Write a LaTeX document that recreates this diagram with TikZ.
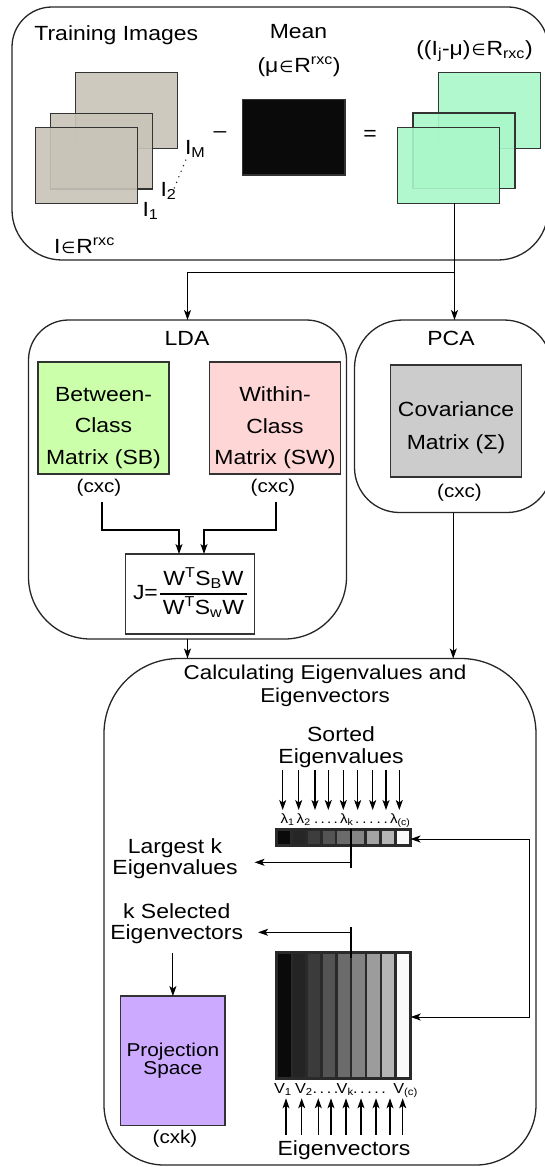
\documentclass[tikz,border=0pt]{standalone}
\usepackage{fontspec}
\setmainfont{Liberation Sans}[FakeStretch=1.12]
\newfontfamily\symfont{DejaVu Sans}
\usetikzlibrary{arrows.meta,calc}

\definecolor{imgfill}{HTML}{C8C4B7}
\definecolor{difffill}{HTML}{AAF8CA}
\definecolor{sbfill}{HTML}{CCFFAA}
\definecolor{swfill}{HTML}{FFD6D6}
\definecolor{covfill}{HTML}{CCCCCC}
\definecolor{projfill}{HTML}{CCAAFF}
\definecolor{edge}{HTML}{333333}
\definecolor{barframe}{HTML}{2A2A2A}

% element-of sign taken from DejaVu Sans
\newcommand\elem{\kern1pt{\symfont\fontsize{16}{16}\selectfont ∈}\kern1pt}
% rounded frame around a node: name, top radius, bottom radius
\newcommand\roundframe[3]{\draw[frame] (#1.west) [rounded corners=#2] |- (#1.north) -| (#1.east) [rounded corners=#3] |- (#1.south) -| (#1.west);}

\begin{document}
\begin{tikzpicture}[x=1pt,y=-1pt,
  every node/.style={inner sep=0pt, outer sep=0pt, text=black},
  txt/.style={font=\fontsize{20.5}{22}\selectfont},
  txtb/.style={font=\fontsize{20.5}{21.6}\selectfont, align=center},
  boxtxt/.style={font=\fontsize{20.5}{31.5}\selectfont, align=center},
  smalltxt/.style={font=\fontsize{18.4}{19}\selectfont},
  lam/.style={font=\fontsize{13.5}{14}\selectfont},
  vlab/.style={font=\fontsize{14.5}{15}\selectfont},
  panel/.style={draw=none},
  frame/.style={draw=black!85, line width=1.3pt},
  trimg/.style={draw=edge, line width=1.2pt, fill=imgfill, fill opacity=0.9, minimum width=102pt, minimum height=75.6pt},
  diffimg/.style={draw=edge, line width=1.2pt, fill=difffill, fill opacity=0.9, minimum width=102pt, minimum height=75.6pt},
  matbox/.style={draw=edge, line width=1.2pt, minimum width=131pt, minimum height=112pt},
  conn/.style={draw=black, line width=1.1pt},
  arr/.style={conn, -{Stealth[length=10pt,width=7pt,inset=2.5pt]}},
  arrtwo/.style={conn, {Stealth[length=10pt,width=7pt,inset=2.5pt]}-{Stealth[length=10pt,width=7pt,inset=2.5pt]}},
  dotline/.style={draw=black!85, line width=1.6pt, line cap=round, dash pattern=on 0pt off 6pt},
  evframe/.style={draw=barframe, line width=1pt, fill=barframe}
]
\useasboundingbox (0,0) rectangle (545,1167);
\fill[white] (0,0) rectangle (545,1167);

% ---------- panels ----------
\node[panel, minimum width=536pt, minimum height=253pt] (top) at (280,133.5) {};
\node[panel, minimum width=318pt, minimum height=319pt] (lda) at (187.5,479.5) {};
\node[panel, minimum width=197.5pt, minimum height=192.5pt] (pca) at (453.25,416.25) {};
\node[panel, minimum width=432pt, minimum height=506.5pt] (eig) at (320,911.75) {};
\roundframe{top}{40pt}{50pt}
\roundframe{lda}{40pt}{62pt}
\roundframe{pca}{48pt}{45pt}
\roundframe{eig}{75pt}{60pt}

% ---------- training images, mean, differences ----------
\node[txt, anchor=base] (trainlbl) at (116.3,40.5) {Training Images};
\node[trimg] (t3) at (126.7,110.5) {};
\node[trimg] (t2) at (101.7,151.2) {};
\node[trimg] (t1) at (86.7,165.5) {};
\node[txt, anchor=base west] (iM) at (185,154) {I\textsubscript{M}};
\node[txt, anchor=base west] (i2) at (160.5,196) {I\textsubscript{2}};
\node[txt, anchor=base west] (i1) at (142.5,216) {I\textsubscript{1}};
\draw[dotline] ($(i2.north east)+(-2,6)$) -- ($(iM.south west)+(2,0)$);
\node[txt, anchor=base west] (idef) at (54,253) {I\elem R\textsuperscript{rxc}};

\node[txt] (minus) at (220,135) {–};
\node[txt, anchor=base] (meanlbl) at (298.5,38.5) {Mean};
\node[txt, anchor=base] (meandef) at (299,72) {(μ\elem R\textsuperscript{rxc})};
\node[draw=edge, line width=1.2pt, fill=black!96, minimum width=102.7pt, minimum height=75.7pt] (mean) at (293.65,137.15) {};
\node[txt] (equals) at (370,135) {=};

\node[txt, anchor=base] (difflbl) at (474.5,55) {((I\textsubscript{j}-μ)\elem R\textsubscript{rxc})};
\node[diffimg] (d3) at (489.2,110.5) {};
\node[diffimg] (d2) at (464,150.8) {};
\node[diffimg] (d1) at (448.85,165.5) {};

% ---------- split towards LDA and PCA ----------
\coordinate (trunk) at (454.5,272.5);
\draw[conn] (trunk |- d1.south) -- (trunk);
\draw[arr] (trunk) -| (lda.north);
\draw[arr] (trunk) -- (trunk |- pca.north);

% ---------- LDA ----------
\node[txt, anchor=base] (ldalbl) at (187,345) {LDA};
\node[matbox, fill=sbfill] (sb) at (103.5,418) {};
\node[boxtxt] (sbtxt) at (103.5,428) {Between-\\Class\\Matrix (SB)};
\node[matbox, fill=swfill] (sw) at (275,418) {};
\node[boxtxt] (swtxt) at (275,428) {Within-\\Class\\Matrix (SW)};
\node[smalltxt] (cxcL) at (99,487.4) {(cxc)};
\node[smalltxt] (cxcR) at (273,487.4) {(cxc)};

\node[draw=edge, line width=1.2pt, fill=white, minimum width=128.3pt, minimum height=80pt,
      font=\fontsize{20.5}{28}\selectfont] (J) at (190,594)
  {J=\kern2pt{\setlength\arrayrulewidth{1.2pt}\begin{tabular}{@{\kern3pt}c@{\kern3pt}}W\textsuperscript{T}S\textsubscript{B}W\\\hline W\textsuperscript{T}S\textsubscript{w}W\end{tabular}}};

\draw[arr] ($(cxcL.south)+(3,6)$) |- ($(J.north)+(-11,-24)$) -- ($(J.north)+(-11,0)$);
\draw[arr] ($(cxcR.south)+(3,6)$) |- ($(J.north)+(14,-24)$) -- ($(J.north)+(14,0)$);

% ---------- PCA ----------
\node[txt, anchor=base] (pcalbl) at (451,345) {PCA};
\node[matbox, fill=covfill] (cov) at (456,421) {};
\node[boxtxt, font=\fontsize{20.5}{33}\selectfont] (covtxt) at (456,427.5) {Covariance\\Matrix (Σ)};
\node[smalltxt] (cxcP) at (459.5,492.6) {(cxc)};

\draw[arr] (lda.south) -- (lda.south |- eig.north);
\draw[arr] (pca.south) -- (pca.south |- eig.north);

% ---------- eigen decomposition ----------
\node[txtb, font=\fontsize{20}{23}\selectfont] (calc) at (325,686.2) {Calculating Eigenvalues and\\Eigenvectors};
\node[txtb] (sorted) at (341,747.2) {Sorted\\Eigenvalues};

% sorted eigenvalue strip
\node[evframe, minimum width=136pt, minimum height=18pt] (evbar) at (343.5,837.5) {};
\foreach \i/\p in {0/96,1/85,2/76,3/67,4/58,5/48,6/36,7/29,8/2}
  \fill[black!\p] ($(evbar.north west)+(2.5+\i*14.833,2.5)$) rectangle ++(12.33,13);

% eigenvector matrix
\node[evframe, minimum width=136pt, minimum height=128pt] (evmat) at (343.7,1015) {};
\foreach \i/\p in {0/96,1/86,2/77,3/67,4/58,5/49,6/39,7/29,8/2}
  \fill[black!\p] ($(evmat.north west)+(2.5+\i*14.833,2.5)$) rectangle ++(12.33,123);

% eigenvalue labels
\node[lam, anchor=base west] (l1) at (280.5,823.3) {λ\textsubscript{1}};
\node[lam, anchor=base west] (l2) at (296.7,823.3) {λ\textsubscript{2}};
\node[lam, anchor=base] (ldotsA) at (326,823.3) {.\kern2.3pt.\kern2.3pt.\kern2.3pt.};
\node[lam, anchor=base west] (lk) at (340,823.3) {λ\textsubscript{k}};
\node[lam, anchor=base] (ldotsB) at (371.5,823.3) {.\kern2.9pt.\kern2.9pt.\kern2.9pt.\kern2.9pt.};
\node[lam, anchor=base west] (lc) at (390,823.3) {λ\textsubscript{(c)}};

\coordinate (sortedfoot) at ($(sorted.south)+(0,2.4)$);
\coordinate (lamtop) at (0,810);
\foreach \x in {282.7,298.7,315,328.3,343.3,357.7,372.7,386,399.3}
  \draw[arr] (\x,0 |- sortedfoot) -- (\x,0 |- lamtop);

% eigenvector labels
\node[vlab, anchor=base west] (v1) at (274,1093.3) {V\textsubscript{1}};
\node[vlab, anchor=base west] (v2) at (295,1093.3) {V\textsubscript{2}};
\node[vlab, anchor=base] (vdotsA) at (325.5,1093.3) {.\kern2.6pt.\kern2.6pt.\kern2.6pt.};
\node[vlab, anchor=base west] (vk) at (336.7,1093.3) {V\textsubscript{k}};
\node[vlab, anchor=base] (vdotsB) at (369.5,1093.3) {.\kern2.6pt.\kern2.6pt.\kern2.6pt.\kern2.6pt.};
\node[vlab, anchor=base west] (vc) at (393.3,1093.3) {V\textsubscript{(c)}};

\node[txt, anchor=base] (evecs) at (344,1155) {Eigenvectors};
\coordinate (vfoot) at ($(evecs.north)+(0,-5.3)$);
\coordinate (vhead) at (0,1098.3);
\foreach \x in {286,301.7,318.3,331,346,361,376,390,402.7}
  \draw[arr] (\x,0 |- vfoot) -- (\x,0 |- vhead);

% selection of the k largest
\node[txtb] (largest) at (175,858.8) {Largest k\\Eigenvalues};
\node[txtb] (ksel) at (176.7,923.8) {k Selected\\Eigenvectors};
\coordinate (kcol) at (351,0);
\coordinate (kbarTop) at (kcol |- evbar.north);
\coordinate (kbarEnd) at (351,868.3);
\coordinate (kbarJoin) at (351,862.3);
\draw[conn] (kbarTop) -- (kbarEnd);
\draw[arr, shorten >=17pt] (kbarJoin) -- (kbarJoin -| largest.east);
\coordinate (kmatTop) at (351,927.3);
\coordinate (kmatEnd) at (351,958);
\coordinate (kmatJoin) at (351,932.3);
\draw[conn] (kmatTop) -- (kmatEnd);
\draw[arr, shorten >=15pt] (kmatJoin) -- (kmatJoin -| ksel.east);

% feedback into strip and matrix
\coordinate (fbx) at (529,0);
\coordinate (fbTop) at ($(evbar.east)+(0,1.5)$);
\coordinate (fbBot) at ($(evmat.east)+(0,2)$);
\draw[arrtwo, line width=1pt, shorten <=-1pt, shorten >=-1pt] (fbTop) -| (fbx |- fbBot) -- (fbBot);

% projection space
\node[draw=edge, line width=1.2pt, fill=projfill, minimum width=104.3pt, minimum height=129.7pt,
      font=\fontsize{18.6}{18.4}\selectfont, align=center] (proj) at (172.9,1060.9) {Projection\\Space};
\node[smalltxt] (cxk) at (175,1139.2) {(cxk)};
\draw[arr] ($(proj.north |- ksel.south)+(0,9)$) -- (proj.north);

\end{tikzpicture}
\end{document}
